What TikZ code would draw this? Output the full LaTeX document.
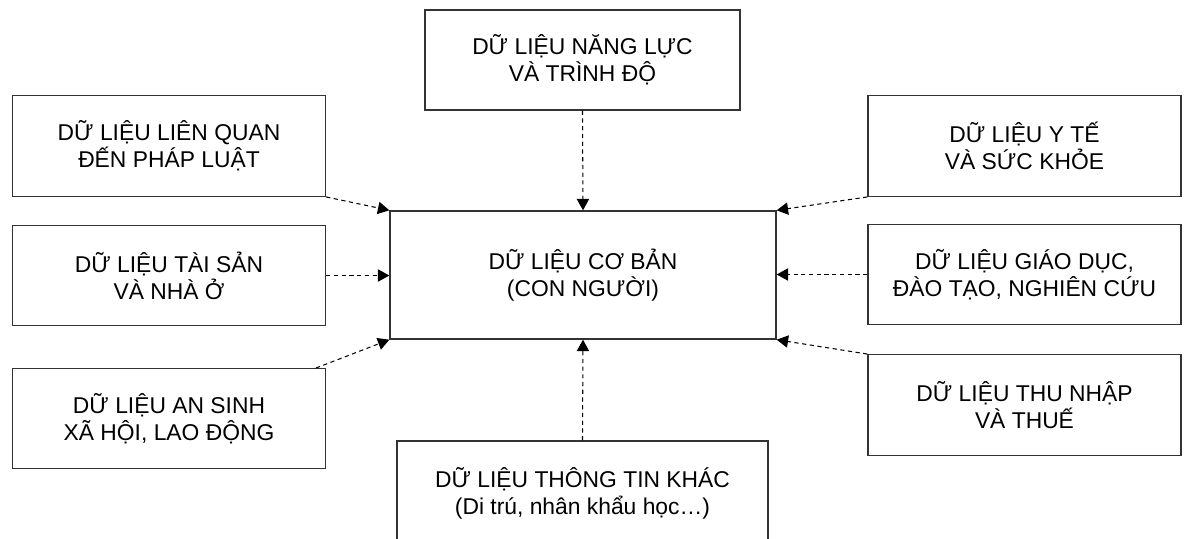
\documentclass[tikz,border=0pt]{standalone}
\usepackage{fontspec}
\setmainfont{Liberation Sans}
\usetikzlibrary{arrows.meta}

\tikzset{
  databox/.style={draw=black!80, line width=0.8pt, align=center, inner sep=0pt,
    font=\fontsize{13}{15.5}\selectfont},
  side box/.style={databox, minimum width=6.26cm, minimum height=2.01cm},
  link/.style={dash pattern=on 2.4pt off 2pt, line width=0.6pt,
    -{Triangle[length=6.5pt,width=7pt]}}
}

\begin{document}
\begin{tikzpicture}[x=0.02cm, y=-0.02cm]
    \useasboundingbox (0,0) rectangle (1184,538);
    % Central box
    \node[databox, minimum width=7.72cm, minimum height=2.56cm] (center box) at (583,275)
      {DỮ LIỆU CƠ BẢN\\(CON NGƯỜI)};
    % Top and bottom boxes
    \node[databox, minimum width=6.3cm, minimum height=2cm] (top box) at (582.5,60)
      {DỮ LIỆU NĂNG LỰC\\VÀ TRÌNH ĐỘ};
    \node[databox, minimum width=7.42cm, minimum height=2.1cm] (bottom box) at (582.5,493.5)
      {DỮ LIỆU THÔNG TIN KHÁC\\(Di trú, nhân khẩu học…)};
    % Left column
    \node[side box] (left top) at (169,146) {DỮ LIỆU LIÊN QUAN\\ĐẾN PHÁP LUẬT};
    \node[side box] (left middle) at (169,275.5) {DỮ LIỆU TÀI SẢN\\VÀ NHÀ Ở};
    \node[side box] (left bottom) at (169,418.5) {DỮ LIỆU AN SINH\\XÃ HỘI, LAO ĐỘNG};
    % Right column
    \node[side box] (right top) at (1024.5,146) {DỮ LIỆU Y TẾ\\VÀ SỨC KHỎE};
    \node[side box] (right middle) at (1024.5,274.5) {DỮ LIỆU GIÁO DỤC,\\ĐÀO TẠO, NGHIÊN CỨU};
    \node[side box] (right bottom) at (1024.5,405) {DỮ LIỆU THU NHẬP\\VÀ THUẾ};
    \coordinate (left bottom start) at (316,368);
    % Dashed arrows into the central box
    \draw[link] (top box.south) -- (center box.north);
    \draw[link] (bottom box.north) -- (center box.south);
    \draw[link] (left top.south east) -- (center box.north west);
    \draw[link] (left middle.east) -- (center box.west |- left middle.east);
    \draw[link] (left bottom start) -- (center box.south west);
    \draw[link] (right top.south west) -- (center box.north east);
    \draw[link] (right middle.west) -- (center box.east |- right middle.west);
    \draw[link] (right bottom.north west) -- (center box.south east);
\end{tikzpicture}
\end{document}
